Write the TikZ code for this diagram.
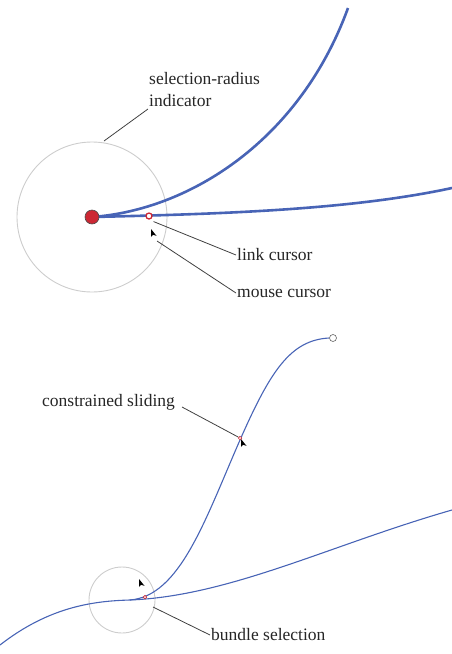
\documentclass[tikz,border=0pt]{standalone}
\usepackage{fontspec}
\setmainfont{Liberation Serif}
\definecolor{curveblue}{RGB}{72,100,182}
\definecolor{ringgrey}{RGB}{205,205,205}
\definecolor{dotred}{RGB}{204,40,52}
\tikzset{
  lbl/.style={font=\fontsize{17.5}{22}\selectfont, text=black!85, inner sep=1pt, anchor=west, align=left},
  leader/.style={draw=black!75, line width=0.8pt},
  thickcurve/.style={draw=curveblue, line width=2.6pt},
  thincurve/.style={draw=curveblue, line width=1.1pt},
  ring/.style={draw=ringgrey, line width=0.9pt},
}
\newcommand{\mycursor}[1]{\fill[black] #1 -- ++(0,8) -- ++(2,-2.2) -- ++(3.5,1) -- cycle;}
\begin{document}
\begin{tikzpicture}[x=1pt,y=-1pt]
\useasboundingbox (0,0) rectangle (452,654);
% ---- top ----
\coordinate (hub) at (92,217);
\draw[ring] (hub) circle[radius=75];
\draw[thickcurve] (hub) .. controls (190,210) and (300,140) .. (348,8);
\draw[thickcurve] (hub) .. controls (220,214) and (350,210) .. (452,188);
\fill[dotred, draw=black!70, line width=0.6pt] (hub) circle[radius=7];
\node[circle, draw=dotred, fill=white, line width=1.3pt, minimum size=6pt, inner sep=0pt] (lc) at (149,216) {};
\mycursor{(151,229)}
\coordinate (mc) at (157,241);
\node[lbl] (sri) at (148,90) {selection-radius\\indicator};
\node[lbl] (lcl) at (236,255) {link cursor};
\node[lbl] (mcl) at (236,293) {mouse cursor};
\coordinate (sriend) at (148,109);
\coordinate (ringpt) at (104,141);
\draw[leader] (sriend) -- (ringpt);
\draw[leader] (lc.south east) ++(2,3) -- (lcl.west);
\draw[leader] (mc) -- (mcl.west);
% ---- bottom ----
\coordinate (bhub) at (122,600);
\draw[ring] (bhub) circle[radius=33];
\coordinate (a0) at (0,645);
\coordinate (a1) at (130,600);
\coordinate (a2) at (452,510);
\draw[thincurve] (a0) .. controls (50,606) and (95,601) .. (a1) .. controls (230,596) and (330,545) .. (a2);
\node[circle, draw=black!60, fill=white, line width=0.6pt, minimum size=7pt, inner sep=0pt] (endc) at (333,338) {};
\draw[thincurve] (a1) .. controls (180,596) and (205,520) .. (240,440) .. controls (270,372) and (290,340) .. (endc.west);
\node[circle, draw=dotred, fill=white, line width=0.7pt, minimum size=3.5pt, inner sep=0pt] (bsel) at (145,597) {};
\node[circle, draw=dotred, fill=white, line width=0.7pt, minimum size=3.5pt, inner sep=0pt] (slide) at (240,438) {};
\mycursor{(139,579)}
\mycursor{(241,439)}
\node[lbl] (csl) at (41,402) {constrained sliding};
\node[lbl] (bsl) at (210,635) {bundle selection};
\coordinate (csend) at (182,407);
\draw[leader] (csend) -- (slide);
\coordinate (bsstart) at (153,607);
\draw[leader] (bsstart) -- (bsl.west);
\end{tikzpicture}
\end{document}
